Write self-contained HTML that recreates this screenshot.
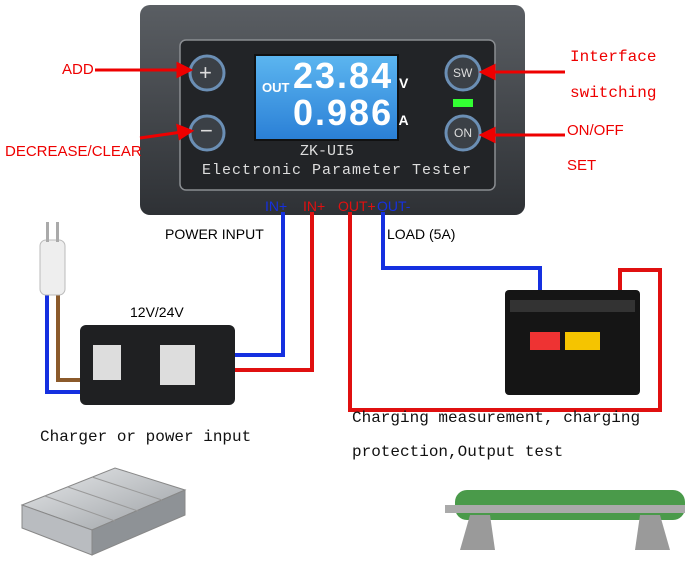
<!DOCTYPE html>
<html><head><meta charset="utf-8"><style>
body{margin:0;width:700px;height:575px;background:#fff;position:relative;overflow:hidden;font-family:"Liberation Sans",sans-serif}
.a{position:absolute}
.r{color:#e00;font-size:15px}
.m{font-family:"Liberation Mono",monospace;font-size:16px;color:#111}
</style></head><body>
<svg class="a" style="left:0;top:0" width="700" height="575">
<defs>
<linearGradient id="dev" x1="0" y1="0" x2="0" y2="1"><stop offset="0" stop-color="#5a5e63"/><stop offset="1" stop-color="#2e3135"/></linearGradient>
<linearGradient id="lcd" x1="0" y1="0" x2="0" y2="1"><stop offset="0" stop-color="#5cb6f0"/><stop offset="1" stop-color="#2a7fd6"/></linearGradient>
<linearGradient id="psu" x1="0" y1="0" x2="1" y2="1"><stop offset="0" stop-color="#e6e8ea"/><stop offset="1" stop-color="#9ca0a4"/></linearGradient>
</defs>
<rect x="140" y="5" width="385" height="210" rx="10" fill="url(#dev)"/>
<rect x="180" y="40" width="315" height="150" rx="6" fill="#222427" stroke="#8a8d91" stroke-width="1.5"/>
<rect x="255" y="55" width="143" height="85" fill="url(#lcd)" stroke="#111" stroke-width="2"/>
<circle cx="207" cy="73" r="17" fill="#3b4046" stroke="#6b8fb5" stroke-width="3"/>
<circle cx="207" cy="133" r="17" fill="#3b4046" stroke="#6b8fb5" stroke-width="3"/>
<circle cx="463" cy="73" r="17" fill="#3b4046" stroke="#6b8fb5" stroke-width="3"/>
<circle cx="463" cy="133" r="17" fill="#3b4046" stroke="#6b8fb5" stroke-width="3"/>
<rect x="453" y="99" width="20" height="8" fill="#3f3"/>
<g stroke="#e00" stroke-width="3" fill="#e00">
<line x1="95" y1="70" x2="180" y2="70"/><polygon points="190,70 178,64 178,76"/>
<line x1="140" y1="138" x2="182" y2="132"/><polygon points="191,131 178,126 180,138"/>
<line x1="565" y1="72" x2="492" y2="72"/><polygon points="482,72 494,66 494,78"/>
<line x1="565" y1="135" x2="492" y2="135"/><polygon points="482,135 494,129 494,141"/>
</g>
<g fill="none" stroke-width="4">
<polyline stroke="#1530e0" points="283,212 283,355 235,355"/>
<polyline stroke="#e01010" points="312,212 312,370 235,370"/>
<polyline stroke="#e01010" points="350,212 350,410 660,410 660,270 620,270 620,292"/>
<polyline stroke="#1530e0" points="383,212 383,268 540,268 540,296"/>
<polyline stroke="#1530e0" points="47,290 47,392 82,392"/>
<polyline stroke="#8b5a2b" points="58,290 58,380 82,380"/>
</g>
<rect x="40" y="240" width="25" height="55" rx="6" fill="#eee" stroke="#bbb"/>
<rect x="46" y="222" width="3" height="20" fill="#aaa"/><rect x="56" y="222" width="3" height="20" fill="#aaa"/>
<rect x="80" y="325" width="155" height="80" rx="6" fill="#1f2022"/>
<rect x="93" y="345" width="28" height="35" fill="#ddd"/>
<rect x="160" y="345" width="35" height="40" fill="#ddd"/>
<rect x="505" y="290" width="135" height="105" rx="4" fill="#151515"/>
<rect x="510" y="300" width="125" height="12" fill="#333"/>
<rect x="530" y="332" width="30" height="18" fill="#e33"/><rect x="565" y="332" width="35" height="18" fill="#f5c400"/>
<!-- psu box -->
<polygon points="22,505 115,468 185,490 92,530" fill="url(#psu)" stroke="#888"/>
<polygon points="22,505 92,530 92,555 22,528" fill="#b9bcc0" stroke="#888"/>
<polygon points="92,530 185,490 185,515 92,555" fill="#8e9296" stroke="#888"/>
<g stroke="#999" stroke-width="1">
<line x1="45" y1="496" x2="115" y2="521"/><line x1="68" y1="487" x2="138" y2="511"/><line x1="92" y1="477" x2="162" y2="500"/>
</g>
<rect x="455" y="490" width="230" height="30" rx="12" fill="#4a9a4a"/>
<rect x="445" y="505" width="240" height="8" fill="#aaa"/>
<polygon points="470,515 490,515 495,550 460,550" fill="#9a9a9a"/>
<polygon points="640,515 660,515 670,550 635,550" fill="#9a9a9a"/>
</svg>
<div class="a" style="left:262px;top:80px;color:#fff;font-weight:bold;font-size:13px">OUT</div>
<div class="a" style="left:293px;top:55px;color:#fff;font-weight:bold;font-size:36px;font-family:'Liberation Sans Narrow','Liberation Sans',sans-serif;letter-spacing:2px">23.84<span style="font-size:14px"> V</span></div>
<div class="a" style="left:293px;top:92px;color:#fff;font-weight:bold;font-size:36px;font-family:'Liberation Sans Narrow','Liberation Sans',sans-serif;letter-spacing:2px">0.986<span style="font-size:14px"> A</span></div>
<div class="a" style="left:199px;top:60px;color:#ddd;font-size:22px">+</div>
<div class="a" style="left:200px;top:118px;color:#ddd;font-size:22px">−</div>
<div class="a" style="left:453px;top:66px;color:#ddd;font-size:12px">SW</div>
<div class="a" style="left:454px;top:126px;color:#ddd;font-size:12px">ON</div>
<div class="a" style="left:300px;top:143px;color:#ddd;font-size:15px;font-family:'Liberation Mono',monospace">ZK-UI5</div>
<div class="a" style="left:202px;top:162px;color:#ddd;font-size:15px;font-family:'Liberation Mono',monospace;letter-spacing:1px">Electronic Parameter Tester</div>
<div class="a r" style="left:62px;top:61px">ADD</div>
<div class="a r" style="left:5px;top:143px">DECREASE/CLEAR</div>
<div class="a r" style="left:570px;top:48px;font-family:'Liberation Mono',monospace;font-size:16px">Interface</div>
<div class="a r" style="left:570px;top:84px;font-family:'Liberation Mono',monospace;font-size:16px">switching</div>
<div class="a r" style="left:567px;top:122px">ON/OFF</div>
<div class="a r" style="left:567px;top:157px">SET</div>
<div class="a" style="left:265px;top:198px;color:#1530e0;font-size:14px">IN+</div>
<div class="a" style="left:303px;top:198px;color:#e01010;font-size:14px">IN+</div>
<div class="a" style="left:338px;top:198px;color:#e01010;font-size:14px">OUT+</div>
<div class="a" style="left:377px;top:198px;color:#1530e0;font-size:14px">OUT-</div>
<div class="a" style="left:165px;top:226px;font-size:14px">POWER INPUT</div>
<div class="a" style="left:387px;top:226px;font-size:14px">LOAD (5A)</div>
<div class="a" style="left:130px;top:304px;font-size:14px">12V/24V</div>
<div class="a m" style="left:40px;top:428px">Charger or power input</div>
<div class="a m" style="left:352px;top:409px">Charging measurement, charging</div>
<div class="a m" style="left:352px;top:443px">protection,Output test</div>
</body></html>
